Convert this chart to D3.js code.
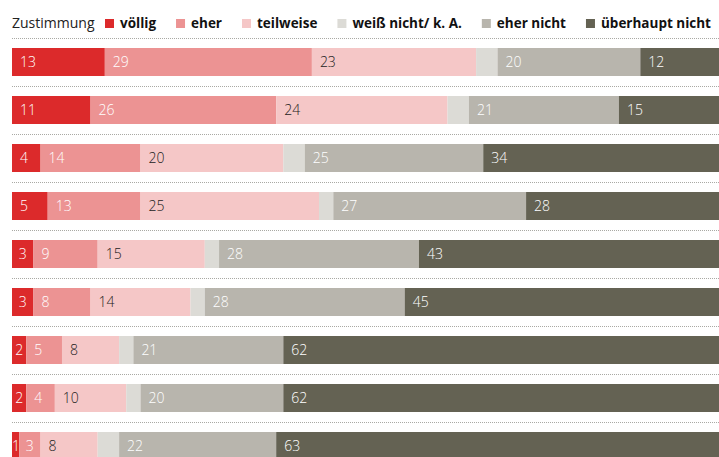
<!DOCTYPE html>
<html>
<head>
<meta charset="utf-8">
<script src="https://cdn.jsdelivr.net/npm/d3@7"></script>
<style>
  body { margin: 0; background: #fff; }
  svg text { font-family: "Open Sans", sans-serif; }
</style>
</head>
<body>
<div id="chart"></div>
<script>
// chart size
var svgWidth = 719;
var svgHeight = 457;

// categories (answer options) and their colours
var categories = ["völlig", "eher", "teilweise", "weiß nicht/ k. A.", "eher nicht", "überhaupt nicht"];
var colors = ["#dc2a2b", "#ec9393", "#f5c7c7", "#dcdbd6", "#b8b5ad", "#646253"];
var labelColors = ["#fff", "#fff", "#222", null, "#fff", "#fff"];

// one array per answer option, one value per row (%)
var voellig   = [13, 11, 4, 5, 3, 3, 2, 2, 1];
var eher      = [29, 26, 14, 13, 9, 8, 5, 4, 3];
var teilweise = [23, 24, 20, 25, 15, 14, 8, 10, 8];
var weissNicht = [3, 3, 3, 2, 2, 2, 2, 2, 3];
var eherNicht = [20, 21, 25, 27, 28, 28, 21, 20, 22];
var ueberhauptNicht = [12, 15, 34, 28, 43, 45, 62, 62, 63];

var series = [voellig, eher, teilweise, weissNicht, eherNicht, ueberhauptNicht];
var rows = d3.range(voellig.length);

var margin = { left: 12, top: 48 };
var rowStep = 48;
var barHeight = 28;

var svg = d3.select("#chart")
  .append("svg")
  .attr("width", svgWidth)
  .attr("height", svgHeight);

// x scale: 0..100 % -> 714 px (bars run past the right edge, as in the original)
var x = d3.scaleLinear()
  .domain([0, 100])
  .range([margin.left, margin.left + 714]);

// row index -> top of the bar
var y = d3.scaleLinear()
  .domain([0, 1])
  .range([margin.top, margin.top + rowStep]);

// stack the data
var table = rows.map(i => {
  var o = {};
  categories.forEach((c, k) => o[c] = series[k][i]);
  return o;
});
var stacked = d3.stack().keys(categories)(table);

// dotted separator lines
svg.append("g")
  .selectAll("line")
  .data(rows)
  .enter()
  .append("line")
  .attr("x1", margin.left)
  .attr("x2", svgWidth)
  .attr("y1", d => y(d) - 10 + 0.5)
  .attr("y2", d => y(d) - 10 + 0.5)
  .attr("stroke", "#a9a9a4")
  .attr("stroke-width", 1)
  .attr("stroke-dasharray", "1,1");

// bars
var layers = svg.append("g")
  .selectAll("g")
  .data(stacked)
  .enter()
  .append("g")
  .attr("fill", (d, k) => colors[k]);

layers.selectAll("rect")
  .data(d => d)
  .enter()
  .append("rect")
  .attr("x", d => x(d[0]))
  .attr("width", d => x(d[1]) - x(d[0]))
  .attr("y", (d, i) => y(i))
  .attr("height", barHeight);

// value labels
layers.each(function(layer, k) {
  if (!labelColors[k]) return;
  d3.select(this).selectAll("text")
    .data(layer)
    .enter()
    .append("text")
    .attr("y", (d, i) => y(i) + barHeight / 2 + 5)
    .attr("fill", labelColors[k])
    .attr("font-size", 14)
    .attr("font-weight", 300)
    .text(d => d.data[layer.key])
    .attr("x", function(d) {
      var w = x(d[1]) - x(d[0]);
      var tw = this.getComputedTextLength();
      return x(d[0]) + Math.max(0, Math.min(8, (w - tw) / 2));
    });
});

// legend
var legend = svg.append("g");
legend.append("text")
  .attr("x", margin.left)
  .attr("y", 28)
  .attr("font-size", 14)
  .attr("fill", "#222")
  .text("Zustimmung");

var lx = 105;
categories.forEach((c, k) => {
  legend.append("rect")
    .attr("x", lx)
    .attr("y", 19)
    .attr("width", 9)
    .attr("height", 9)
    .attr("fill", colors[k]);
  var t = legend.append("text")
    .attr("x", lx + 15)
    .attr("y", 28)
    .attr("font-size", 13.5)
    .attr("font-weight", 700)
    .attr("fill", "#111")
    .text(c);
  lx = lx + 15 + t.node().getComputedTextLength() + 20;
});
</script>
</body>
</html>
